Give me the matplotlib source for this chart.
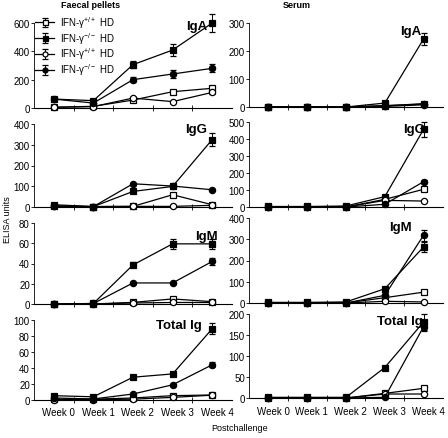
import matplotlib
matplotlib.use("Agg")
import matplotlib.pyplot as plt

plt.rcParams['font.family'] = ['Liberation Sans', 'DejaVu Sans']
plt.rcParams['mathtext.fontset'] = 'custom'
plt.rcParams['mathtext.rm'] = 'Liberation Sans'
plt.rcParams['mathtext.it'] = 'Liberation Sans'

weeks = ["Week 0", "Week 1", "Week 2", "Week 3", "Week 4"]
series_labels = ["IFN-γ$^{+/+}$ HD", "IFN-γ$^{-/-}$ HD",
                 "IFN-γ$^{+/+}$ HD", "IFN-γ$^{-/-}$ HD"]

# Faecal pellets: open square, filled square, open circle, filled circle
faecal_iga = [[5, 12, 56, 115, 139], [63, 52, 306, 409, 600],
              [5, 10, 70, 45, 110], [63, 35, 200, 240, 280]]
faecal_iga_err = [[0, 0, 5, 8, 8], [0, 5, 25, 40, 65],
                  [0, 0, 5, 5, 8], [0, 5, 18, 25, 28]]
faecal_igg = [[3, 2, 3, 59, 11], [11, 2, 75, 99, 325],
              [3, 2, 3, 3, 8], [5, 2, 112, 101, 83]]
faecal_igg_err = [[0, 0, 0, 4, 2], [0, 0, 5, 5, 30],
                  [0, 0, 0, 0, 0], [0, 0, 5, 5, 5]]
faecal_igm = [[0, 0, 1.6, 5, 2.3], [0, 0.5, 38.6, 59.4, 59.4],
              [0, 0, 1, 1.5, 1.5], [0, 0.5, 20.8, 20.8, 42]]
faecal_igm_err = [[0, 0, 0, 0.5, 0], [0, 0, 2.5, 5, 5],
                  [0, 0, 0, 0, 0], [0, 0, 1, 1, 3]]
faecal_tot = [[1, 1, 2.5, 5.4, 6.3], [5.4, 4, 28.5, 32.6, 89],
              [0.5, 0.5, 1, 3.3, 6], [2.5, 1.3, 7.5, 19, 44]]
faecal_tot_err = [[0, 0, 0, 0.5, 0.5], [0, 0, 1, 1.5, 7],
                  [0, 0, 0, 0, 0], [0, 0, 1, 1.5, 3]]

# Serum
serum_iga = [[0, 0, 0, 5, 10], [0, 0, 0, 14, 243],
             [0, 0, 0, 2, 8], [0, 0, 0, 4, 12]]
serum_iga_err = [[0, 0, 0, 0, 0], [0, 0, 0, 2, 22],
                 [0, 0, 0, 0, 0], [0, 0, 0, 0, 2]]
serum_igg = [[0, 0, 0, 45, 104], [3, 3, 6, 61, 457],
             [0, 0, 0, 39, 35], [0, 0, 0, 16, 149]]
serum_igg_err = [[0, 0, 0, 3, 5], [0, 0, 0, 4, 45],
                 [0, 0, 0, 2, 3], [0, 0, 0, 2, 8]]
serum_igm = [[0, 0, 0, 25, 51], [3, 3, 5, 67, 264],
             [0, 0, 0, 8, 5], [0, 0, 0, 36, 319]]
serum_igm_err = [[0, 0, 0, 2, 3], [0, 0, 0, 5, 25],
                 [0, 0, 0, 0, 0], [0, 0, 0, 3, 25]]
serum_tot = [[0, 0, 0, 11, 23], [1.6, 1.6, 1.6, 72.6, 181],
             [0, 0, 0, 9.5, 9.5], [0, 0, 0, 1.6, 170]]
serum_tot_err = [[0, 0, 0, 1, 2], [0, 0, 0, 3, 18],
                 [0, 0, 0, 0, 0], [0, 0, 0, 0, 10]]

markers = ['s', 's', 'o', 'o']
faces = ['white', 'black', 'white', 'black']

W, H = 448, 439
fig = plt.figure(figsize=(W / 100, H / 100), dpi=100)


def add_panel(x0, x1, y_top, y_bot, data, err, yticks, label, label_xy,
              show_x=False, legend=False):
    ax = fig.add_axes([x0 / W, 1 - y_bot / H, (x1 - x0) / W, (y_bot - y_top) / H])
    x = range(len(weeks))
    for i in range(4):
        ax.errorbar(x, data[i], yerr=err[i], color='black', lw=0.9,
                    marker=markers[i], mfc=faces[i], mec='black', ms=4.5,
                    mew=0.9, elinewidth=0.7, capsize=2, capthick=0.7,
                    clip_on=False, zorder=3, label=series_labels[i])
    ax.set_xlim(-0.5, 4.5)
    ax.set_ylim(0, yticks[-1])
    ax.set_yticks(yticks)
    ax.set_xticks([0.5, 1.5, 2.5, 3.5])
    ax.set_xticklabels([])
    ax.tick_params(axis='x', direction='inout', length=4, width=0.6)
    ax.tick_params(axis='y', direction='out', length=2, width=0.6,
                   labelsize=7, pad=1)
    for s in ['top', 'right']:
        ax.spines[s].set_visible(False)
    ax.spines['left'].set_linewidth(0.6)
    ax.spines['bottom'].set_linewidth(0.8)
    if show_x:
        for i, w in enumerate(weeks):
            ax.text(i + 0.12, -0.09, w, transform=ax.get_xaxis_transform(),
                    ha='center', va='top', fontsize=7)
    ax.text(label_xy[0], label_xy[1], label, transform=ax.transAxes,
            fontsize=9.5, fontweight='bold', ha='center', va='center')
    if legend:
        ax.legend(loc='upper left', bbox_to_anchor=(-0.01, 1.14), frameon=False,
                  fontsize=7, handlelength=2.0, handletextpad=0.6,
                  labelspacing=0.0, borderaxespad=0.2, borderpad=0.1,
                  markerscale=0.8)
    return ax


LX0, LX1 = 34, 232
RX0, RX1 = 249, 443

add_panel(LX0, LX1, 24, 109, faecal_iga, faecal_iga_err, [0, 200, 400, 600],
          "IgA", (0.82, 0.97), legend=True)
add_panel(RX0, RX1, 24, 108, serum_iga, serum_iga_err, [0, 100, 200, 300],
          "IgA", (0.835, 0.9))
add_panel(LX0, LX1, 125, 208, faecal_igg, faecal_igg_err, [0, 100, 200, 300, 400],
          "IgG", (0.82, 0.94))
add_panel(RX0, RX1, 123, 208, serum_igg, serum_igg_err, [0, 100, 200, 300, 400, 500],
          "IgG", (0.85, 0.92))
add_panel(LX0, LX1, 224, 305, faecal_igm, faecal_igm_err, [0, 20, 40, 60, 80],
          "IgM", (0.87, 0.84))
add_panel(RX0, RX1, 219, 304, serum_igm, serum_igm_err, [0, 100, 200, 300, 400],
          "IgM", (0.78, 0.89))
add_panel(LX0, LX1, 321, 401, faecal_tot, faecal_tot_err, [0, 20, 40, 60, 80, 100],
          "Total Ig", (0.73, 0.94), show_x=True)
add_panel(RX0, RX1, 315, 399, serum_tot, serum_tot_err, [0, 50, 100, 150, 200],
          "Total Ig", (0.78, 0.92), show_x=True)

fig.text(91 / W, 1 - 1 / H, "Faecal pellets", fontsize=6.5, fontweight='bold',
         ha='center', va='top')
fig.text(297 / W, 1 - 1 / H, "Serum", fontsize=6.5, fontweight='bold',
         ha='center', va='top')
fig.text(7 / W, 1 - 220 / H, "ELISA units", fontsize=6.5, rotation=90,
         ha='center', va='center')
fig.text(240 / W, 1 - 429 / H, "Postchallenge", fontsize=6.5,
         ha='center', va='center')

fig.savefig("out.png", dpi=100)
